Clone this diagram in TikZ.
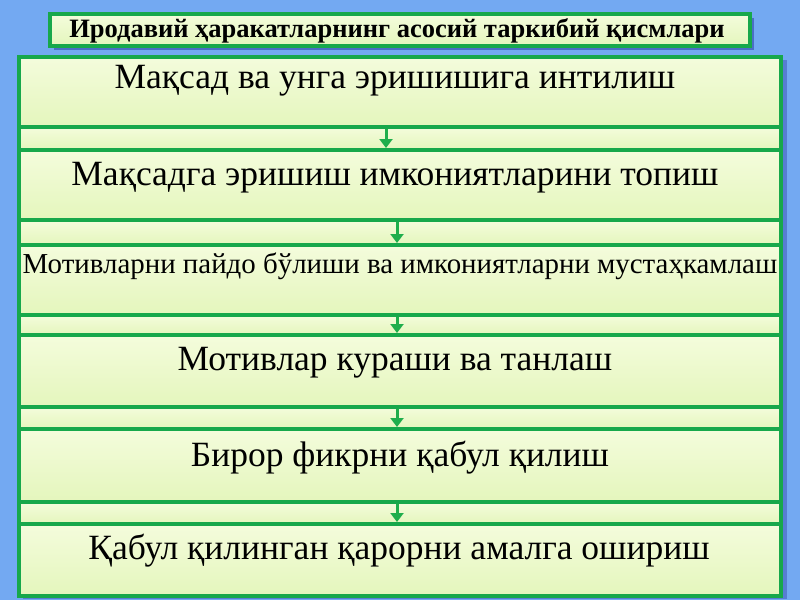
\documentclass[tikz,border=0pt]{standalone}
\usepackage{fontspec}
\setmainfont{Liberation Serif}
\usetikzlibrary{shadows,arrows.meta}
\definecolor{bgblue}{HTML}{73A9F2}
\definecolor{bordgreen}{HTML}{17A84B}
\definecolor{filltop}{HTML}{F4FCDC}
\definecolor{fillbot}{HTML}{E4F6BC}
\definecolor{arrgreen}{HTML}{1FAE4C}
\tikzset{
  boxshape/.style={draw=bordgreen, line width=4pt, top color=filltop, bottom color=fillbot,
    minimum width=762pt, inner sep=0pt, anchor=north},
  stripshape/.style={boxshape, top color=filltop, bottom color=fillbot},
  titleshape/.style={draw=bordgreen, line width=4pt, top color=filltop, bottom color=fillbot,
    minimum width=700pt, minimum height=32pt, inner sep=0pt,
    drop shadow={shadow xshift=4pt, shadow yshift=-4pt, fill=blue!45!black, opacity=0.35}},
  boxtext/.style={font=\fontsize{35.5}{40}\selectfont, inner sep=0pt},
  smalltext/.style={font=\fontsize{28.9}{32}\selectfont, inner sep=0pt},
  titletext/.style={font=\bfseries\fontsize{26.5}{29}\selectfont, inner sep=0pt},
  arr/.style={draw=arrgreen, line width=3pt, -{Triangle[width=13pt,length=9pt]}}
}
\begin{document}
\begin{tikzpicture}[x=1pt,y=-1pt]
\fill[bgblue] (0,0) rectangle (800,600);
\useasboundingbox (0,0) rectangle (800,600);
% outer shadow
\fill[blue!45!black, opacity=0.25] (23,60) rectangle (787,599);
% title
\node[titleshape] (title) at (400,30) {};
\node[titletext] (tt) at (397,31) {Иродавий ҳаракатларнинг асосий таркибий қисмлари};
% strips
\node[stripshape, minimum height=23pt] (s1) at (400,125) {};
\node[stripshape, minimum height=25pt] (s2) at (400,218) {};
\node[stripshape, minimum height=20pt] (s3) at (400,313) {};
\node[stripshape, minimum height=22pt] (s4) at (400,405) {};
\node[stripshape, minimum height=22pt] (s5) at (400,500) {};
% boxes
\node[boxshape, minimum height=70pt] (b1) at (400,55) {};
\node[boxshape, minimum height=70pt] (b2) at (400,148) {};
\node[boxshape, minimum height=70pt] (b3) at (400,243) {};
\node[boxshape, minimum height=72pt] (b4) at (400,333) {};
\node[boxshape, minimum height=73pt] (b5) at (400,427) {};
\node[boxshape, minimum height=72pt] (b6) at (400,522) {};
% texts
\node[boxtext] (t1) at (395,81) {Мақсад ва унга эришишига интилиш};
\node[boxtext] (t2) at (395,178) {Мақсадга эришиш имкониятларини топиш};
\node[smalltext] (t3) at (400,266) {Мотивларни пайдо бўлиши ва имкониятларни мустаҳкамлаш};
\node[boxtext] (t4) at (395,363) {Мотивлар кураши ва танлаш};
\node[boxtext] (t5) at (400,458) {Бирор фикрни қабул қилиш};
\node[boxtext] (t6) at (399,551) {Қабул қилинган қарорни амалга ошириш};
% arrow positions
\coordinate (a1) at (386,0);
\coordinate (a2) at (397,0);
\draw[arr] (b1.south -| a1) -- (b2.north -| a1);
\draw[arr] (b2.south -| a2) -- (b3.north -| a2);
\draw[arr] (b3.south -| a2) -- (b4.north -| a2);
\draw[arr] (b4.south -| a2) -- (b5.north -| a2);
\draw[arr] (b5.south -| a2) -- (b6.north -| a2);
\end{tikzpicture}
\end{document}
